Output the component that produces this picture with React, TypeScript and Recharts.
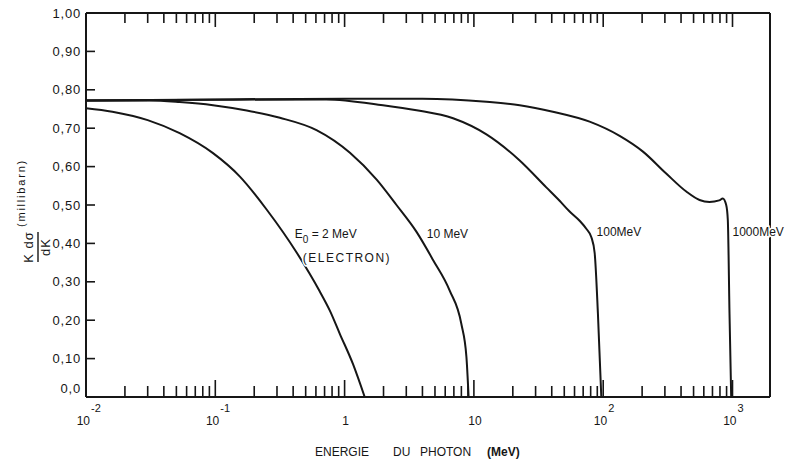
import React from 'react';
import { LineChart, Line, XAxis, YAxis, ReferenceDot } from 'recharts';

const INK = '#161616';
const FONT = '"Liberation Sans", Arial, sans-serif';

// photon energy (MeV) and K dσ/dK (millibarn), one pair of arrays per electron energy
const energy2MeV = [0.01, 0.016, 0.03, 0.053, 0.096, 0.155, 0.251, 0.428, 0.64, 0.769, 0.92, 1.16, 1.43];
const sigma2MeV = [0.752, 0.743, 0.721, 0.687, 0.635, 0.574, 0.487, 0.375, 0.276, 0.225, 0.164, 0.086, 0];

const energy10MeV = [0.01, 0.031, 0.053, 0.096, 0.175, 0.316, 0.606, 1.1, 1.77, 2.52, 3.6, 4.83, 6.5, 8.0, 8.75, 9.1];
const sigma10MeV = [0.772, 0.772, 0.768, 0.76, 0.746, 0.727, 0.695, 0.636, 0.566, 0.5, 0.43, 0.357, 0.277, 0.19, 0.105, 0];

const energy100MeV = [0.01, 0.1, 0.72, 1.98, 3.6, 6.9, 12.5, 22.6, 36.3, 46, 55, 65.7, 74, 81, 85.9, 91, 96.7];
const sigma100MeV = [0.772, 0.774, 0.775, 0.76, 0.747, 0.726, 0.684, 0.616, 0.546, 0.511, 0.483, 0.459, 0.438, 0.416, 0.375, 0.218, 0];

const energy1000MeV = [0.01, 0.1, 1, 4, 12.5, 22.6, 40.8, 78.5, 134, 203, 307, 439, 556, 664, 790, 841, 894, 920, 948, 977];
const sigma1000MeV = [0.772, 0.775, 0.777, 0.777, 0.769, 0.76, 0.743, 0.717, 0.68, 0.639, 0.582, 0.535, 0.513, 0.508, 0.512, 0.517, 0.5, 0.461, 0.218, 0];

const decades = [0.01, 0.1, 1, 10, 100, 1000];
const decadeBase = ['10', '10', '1', '10', '10', '10'];
const decadeExp = ['-2', '-1', '', '', '2', '3'];
const minorSteps = [2, 3, 4, 5, 6, 7, 8, 9];
const xMax = 1950;

const yTicks = [0, 0.1, 0.2, 0.3, 0.4, 0.5, 0.6, 0.7, 0.8, 0.9, 1];
const yTickLabels = ['0,0', '0,10', '0,20', '0,30', '0,40', '0,50', '0,60', '0,70', '0,80', '0,90', '1,00'];

// curve annotations: anchor in data units (left edge, baseline)
const curveLabels = [
  { e: 0.412, k: 0.414, text: '2 MeV', kind: 'electron' },
  { e: 0.475, k: 0.352, text: '(ELECTRON)', kind: 'plain' },
  { e: 4.32, k: 0.414, text: '10 MeV', kind: 'plain' },
  { e: 88.9, k: 0.418, text: '100MeV', kind: 'plain' },
  { e: 1000, k: 0.418, text: '1000MeV', kind: 'plain' },
];

const xTicks = [
  ...decades,
  ...decades.flatMap((d) => minorSteps.map((m) => Number((m * d).toPrecision(3)))),
]
  .filter((v) => v <= xMax)
  .sort((a, b) => a - b);

const toPoints = (es: number[], ks: number[]) => es.map((e, i) => ({ e, k: ks[i] }));

const series = [
  toPoints(energy2MeV, sigma2MeV),
  toPoints(energy10MeV, sigma10MeV),
  toPoints(energy100MeV, sigma100MeV),
  toPoints(energy1000MeV, sigma1000MeV),
];

function BottomTick(props: any) {
  const { x, y, payload } = props;
  const i = decades.indexOf(payload.value);
  const major = i >= 0;
  return (
    <g>
      <line x1={x} x2={x} y1={y} y2={y - (major ? 17 : 11)} stroke={INK} strokeWidth={1.6} />
      {major && (
        <text
          x={decadeExp[i] ? x + 4 : x + 1}
          y={425}
          fontSize={12}
          textAnchor={decadeExp[i] ? 'end' : 'middle'}
          fontFamily={FONT}
          fill={INK}
        >
          {decadeBase[i]}
        </text>
      )}
      {major && decadeExp[i] && (
        <text x={x + 5} y={412} fontSize={11} fontFamily={FONT} fill={INK}>
          {decadeExp[i]}
        </text>
      )}
    </g>
  );
}

function TopTick(props: any) {
  const { x, y, payload } = props;
  const major = decades.includes(payload.value);
  return <line x1={x} x2={x} y1={y} y2={y + (major ? 14 : 10)} stroke={INK} strokeWidth={1.6} />;
}

function LeftTick(props: any) {
  const { x, y, payload, index } = props;
  return (
    <g>
      <line x1={x} x2={x + 9} y1={y} y2={y} stroke={INK} strokeWidth={1.6} />
      <text
        x={x - 5}
        y={payload.value === 0 ? y - 9 : y}
        dy="0.36em"
        textAnchor="end"
        fontSize={13}
        letterSpacing={0.8}
        fontFamily={FONT}
        fill={INK}
      >
        {yTickLabels[index]}
      </text>
    </g>
  );
}

function RightTick(props: any) {
  const { x, y, payload } = props;
  if (payload.value === 0 || payload.value === 1) return <g />;
  return <line x1={x - 10} x2={x} y1={y} y2={y} stroke={INK} strokeWidth={1.6} />;
}

function CurveLabel(props: any, item: (typeof curveLabels)[number]) {
  const { cx, cy } = props;
  if (item.kind === 'electron') {
    return (
      <text x={cx} y={cy} fontSize={12} fontFamily={FONT} fill={INK}>
        <tspan>E</tspan>
        <tspan dy={5} fontSize={10}>0</tspan>
        <tspan dy={-5}> = {item.text}</tspan>
      </text>
    );
  }
  return (
    <text
      x={cx}
      y={cy}
      fontSize={12}
      letterSpacing={item.text === '(ELECTRON)' ? 1.5 : 0}
      fontFamily={FONT}
      fill={INK}
      stroke="#fff"
      strokeWidth={3}
      paintOrder="stroke"
    >
      {item.text}
    </text>
  );
}

export default function App() {
  const frame = { stroke: INK, strokeWidth: 2 };
  return (
    <div style={{ position: 'absolute', left: 0, top: 0, width: 795, height: 466, background: '#fff' }}>
      <LineChart width={795} height={466} margin={{ top: 0, right: 0, bottom: 0, left: 0 }}>
        <XAxis
          xAxisId="b"
          type="number"
          dataKey="e"
          scale="log"
          domain={[0.01, xMax]}
          allowDataOverflow
          ticks={xTicks}
          interval={0}
          tickSize={0}
          tickMargin={0}
          tickLine={false}
          height={69}
          axisLine={frame}
          tick={BottomTick}
        />
        <XAxis
          xAxisId="t"
          orientation="top"
          type="number"
          dataKey="e"
          scale="log"
          domain={[0.01, xMax]}
          allowDataOverflow
          ticks={xTicks}
          interval={0}
          tickSize={0}
          tickMargin={0}
          tickLine={false}
          height={13}
          axisLine={frame}
          tick={TopTick}
        />
        <YAxis
          yAxisId="l"
          type="number"
          domain={[0, 1]}
          ticks={yTicks}
          interval={0}
          width={86}
          tickSize={0}
          tickMargin={0}
          tickLine={false}
          axisLine={frame}
          tick={LeftTick}
        />
        <YAxis
          yAxisId="r"
          orientation="right"
          type="number"
          domain={[0, 1]}
          ticks={yTicks}
          interval={0}
          width={25}
          tickSize={0}
          tickMargin={0}
          tickLine={false}
          axisLine={frame}
          tick={RightTick}
        />
        {series.map((pts, i) => (
          <Line
            key={i}
            xAxisId="b"
            yAxisId="l"
            data={pts}
            dataKey="k"
            type="monotone"
            stroke={INK}
            strokeWidth={2}
            dot={false}
            isAnimationActive={false}
          />
        ))}
        {curveLabels.map((item, i) => (
          <ReferenceDot
            key={'lbl' + i}
            xAxisId="b"
            yAxisId="l"
            x={item.e}
            y={item.k}
            r={0}
            shape={(p: any) => CurveLabel(p, item)}
          />
        ))}
      </LineChart>
      <svg
        width={795}
        height={466}
        style={{ position: 'absolute', left: 0, top: 0, pointerEvents: 'none' }}
        fontFamily={FONT}
        fill={INK}
      >
        <g transform="translate(33,247) rotate(-90)">
          <text x={0} y={0} fontSize={13} textAnchor="middle" letterSpacing={1}>K dσ</text>
          <line x1={-15} x2={15} y1={5} y2={5} stroke={INK} strokeWidth={1.4} />
          <text x={0} y={17} fontSize={13} textAnchor="middle" letterSpacing={1}>dK</text>
        </g>
        <g transform="translate(25,193) rotate(-90)">
          <text x={0} y={0} fontSize={11} textAnchor="middle" letterSpacing={1.8}>(millibarn)</text>
        </g>
        <text y={456} fontSize={12}>
          <tspan x={315}>ENERGIE</tspan>
          <tspan x={393}>DU</tspan>
          <tspan x={420}>PHOTON</tspan>
          <tspan x={487} fontWeight="bold">(MeV)</tspan>
        </text>
      </svg>
    </div>
  );
}
